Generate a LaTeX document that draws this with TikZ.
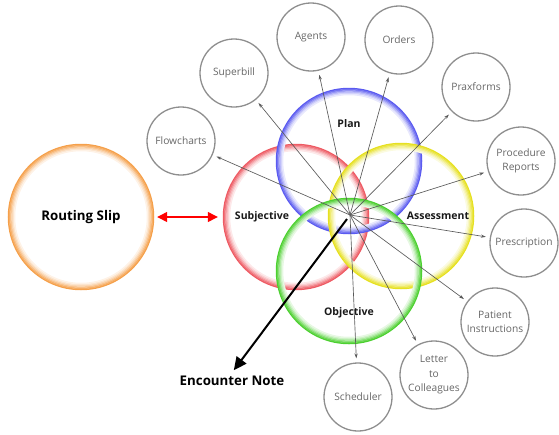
\documentclass[tikz,border=0pt]{standalone}
\usepackage{fontspec}
\setmainfont{Open Sans}
\usepackage{xcolor}
\usetikzlibrary{positioning,arrows.meta}
\definecolor{ringorange}{HTML}{F5A04A}
\definecolor{ringred}{HTML}{EE5A63}
\definecolor{ringblue}{HTML}{5A5AF0}
\definecolor{ringyellow}{HTML}{E6E020}
\definecolor{ringgreen}{HTML}{4CD030}
\definecolor{satgray}{HTML}{8E8E8E}
\definecolor{sattext}{HTML}{666666}

% soft ring: saturated outside, fading inwards
\newcommand{\softring}[2]{%
  \foreach \k/\t in {0/100,1.2/85,2.4/65,3.6/45,4.8/28,6/14}
    \draw[#2!\t, line width=1.5pt] (#1) circle[radius=72.5pt-\k pt];}

\begin{document}
\begin{tikzpicture}[x=1pt, y=-1pt,
  ringnode/.style={circle, minimum size=146pt, inner sep=0pt},
  mainlabel/.style={font=\fontsize{10.5}{12}\selectfont\bfseries, text=black!90},
  satellite/.style={draw=satgray, line width=1.3pt, circle, minimum size=68pt, inner sep=0pt, align=center, font=\fontsize{10.2}{14.5}\selectfont, text=sattext},
  spoke/.style={-{Stealth[length=5pt,width=3.2pt]}, draw=black!65, line width=0.65pt, shorten >=4pt},
]
  \useasboundingbox (0,0) rectangle (559,434);

  % Routing slip
  \node[ringnode, font=\fontsize{13.3}{15}\selectfont\bfseries] (routing) at (81,217) {Routing Slip};
  \softring{routing}{ringorange}

  % SOAP rings
  \node[ringnode] (subj) at (296,217) {};
  \node[ringnode] (plan) at (349,161) {};
  \node[ringnode] (assess) at (401,216) {};
  \node[ringnode] (obj) at (349,271) {};
  \softring{subj}{ringred}
  \softring{plan}{ringblue}
  \softring{assess}{ringyellow}
  \softring{obj}{ringgreen}

  \node[mainlabel] (subjlabel) at (262,217) {Subjective};
  \node[mainlabel] (planlabel) at (349,124) {Plan};
  \node[mainlabel] (assesslabel) at (438,216) {Assessment};
  \node[mainlabel] (objlabel) at (349,313) {Objective};

  % Satellites
  \node[satellite] (flow) at (181,141) {Flowcharts};
  \node[satellite] (superbill) at (234,73) {Superbill};
  \node[satellite] (agents) at (311,37) {Agents};
  \node[satellite] (orders) at (399,40) {Orders};
  \node[satellite] (prax) at (476,87) {Praxforms};
  \node[satellite] (procrep) at (521,161) {Procedure\\Reports};
  \node[satellite] (prescr) at (524,243) {Prescription};
  \node[satellite] (patinst) at (495,322) {Patient\\Instructions};
  \node[satellite] (letter) at (434,375) {Letter\\to\\Colleagues};
  \node[satellite] (sched) at (358,397) {Scheduler};

  % Spokes from the hub
  \coordinate (hub) at (350,215);
  \foreach \s in {flow,superbill,agents,orders,prax,procrep,prescr,patinst,letter,sched}
    \draw[spoke] (hub) -- (\s);

  % Routing slip link
  \draw[{Triangle[length=10pt,width=10pt]}-{Triangle[length=10pt,width=10pt]}, red, line width=1.3pt, shorten <=3pt, shorten >=5pt] (routing.east) -- (subj.west);

  % Encounter note
  \node[font=\fontsize{13.3}{15}\selectfont\bfseries] (enc) at (232,381) {Encounter Note};
  \draw[-{Triangle[length=13pt,width=12pt]}, line width=2pt, shorten <=5pt, shorten >=3pt] (hub) -- (enc.north);

\end{tikzpicture}
\end{document}
